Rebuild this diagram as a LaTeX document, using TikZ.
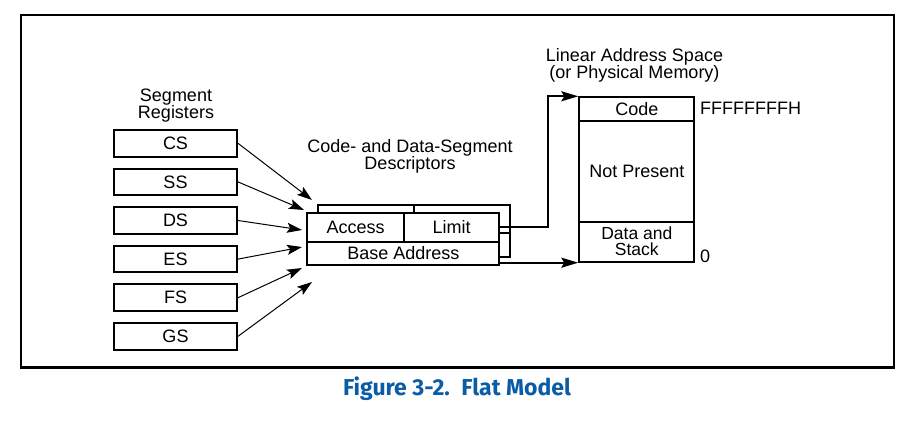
\documentclass[tikz,border=0pt]{standalone}
\usepackage{fontspec}
\setmainfont{Liberation Sans}
\newfontfamily\capfont{Fira Sans}
\usetikzlibrary{arrows.meta}
\definecolor{capblue}{RGB}{10,92,166}
\tikzset{
	reg/.style={draw, line width=2pt, minimum width=123pt, minimum height=26.5pt, inner sep=0pt, font=\fontsize{18}{18}\selectfont},
	field/.style={draw, line width=2pt, fill=white, inner sep=0pt, font=\fontsize{18}{18}\selectfont},
	lbl/.style={align=center, inner sep=0pt, font=\fontsize{18}{17}\selectfont},
	arr/.style={-{Stealth[length=15pt,width=10pt,inset=3pt]}, line width=1pt},
	bus/.style={-{Stealth[length=17pt,width=10pt,inset=3pt]}, line width=2pt}
}
\begin{document}
\begin{tikzpicture}[x=1pt,y=-1pt]
		%%%%% START %%%%%
		\useasboundingbox (0,0) rectangle (909,435);
		\draw[line width=2.5pt] (21,15) rectangle (894,367.5);
		
		% segment registers
		\node[lbl] (seglbl) at (176,105.5) {Segment\\Registers};
		\foreach \reg [count=\i from 0] in {CS,SS,DS,ES,FS,GS}
			\node[reg] (\reg) at (175.5,143.3+38.6*\i) {\reg};
		
		% descriptors
		\node[lbl] (desclbl) at (410,156) {Code- and Data-Segment\\Descriptors};
		\draw[line width=2pt] (317.5,205.5) rectangle (509.5,257);
		\draw[line width=2pt] (414,205.5) -- (414,233.5) (317.5,233.5) -- (509.5,233.5);
		\node[field, minimum width=96.7pt, minimum height=28.4pt] (access) at (355.65,227.5) {Access};
		\node[field, minimum width=95.3pt, minimum height=28.4pt] (limit) at (451.65,227.5) {Limit};
		\node[field, minimum width=192pt, minimum height=23.3pt] (base) at (403.3,253.35) {Base Address};
		
		\foreach \reg/\tx/\ty in {CS/312/200, SS/304/210, DS/302/230, ES/302/247, FS/302/268, GS/312/282}{
			\coordinate (t\reg) at (\tx,\ty);
			\draw[arr] (\reg.east) -- (t\reg);
		}
		
		% linear address space
		\node[lbl] (linlbl) at (634.5,65) {Linear Address Space\\(or Physical Memory)};
		\node[field, minimum width=115pt, minimum height=23.4pt] (code) at (636.8,109) {Code};
		\node[field, minimum width=115pt, minimum height=101pt] (notpres) at (636.8,171.2) {Not Present};
		\node[field, minimum width=115pt, minimum height=40pt, align=center, font=\fontsize{17.5}{16}\selectfont] (data) at (636.8,241.7) {Data and\\Stack};
		\node[lbl, anchor=west] (top) at (700,108.3) {FFFFFFFFH};
		\node[lbl, anchor=west] (bottom) at (700,256.7) {0};
		
		\draw[bus] (limit.east) -- ++(48,0) |- (code.north west);
		\draw[bus] (base.east |- data.south) -- (data.south west);
		
		\node[font=\capfont\bfseries\fontsize{23}{25}\selectfont, text=capblue] (cap) at (457,389) {Figure 3-2.\hspace{0.5em}Flat Model};
		%%%%% END %%%%%
\end{tikzpicture}
\end{document}
